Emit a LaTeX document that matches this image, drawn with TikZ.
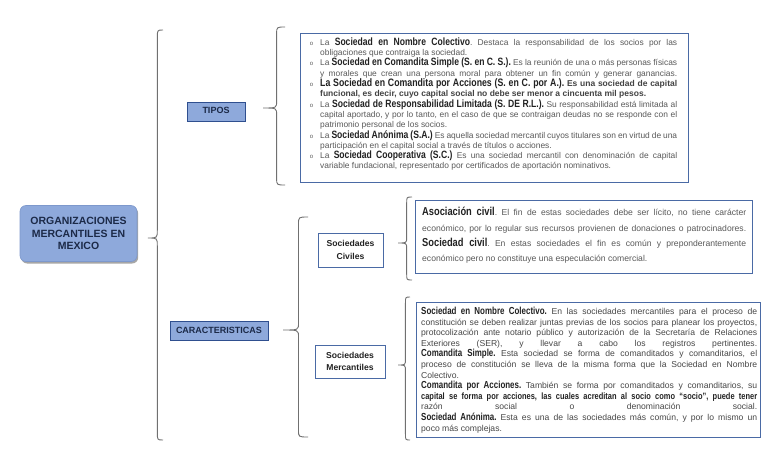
\documentclass[tikz,border=0pt]{standalone}
\usepackage{fontspec}
\setmainfont{Liberation Sans}
\newfontfamily\narrowf[FakeStretch=0.81]{Liberation Sans}
\newfontfamily\narrowg[FakeStretch=0.78]{Liberation Sans}
\usetikzlibrary{shadows,calc}
\definecolor{nodefill}{HTML}{8EA9DB}
\definecolor{mainborder}{HTML}{7D98CC}
\definecolor{nodeborder}{HTML}{2F4F8F}
\definecolor{boxborder}{HTML}{4A6AA5}
\definecolor{bracec}{HTML}{707070}
\definecolor{bodyc}{HTML}{595959}
\definecolor{headc}{HTML}{222222}
\definecolor{titlec}{HTML}{1C2A48}
\newcommand\hd[2][10.6]{{\narrowf\bfseries\fontsize{#1}{10}\selectfont\color{headc}#2}}
\newcommand\hm[1]{{\narrowg\bfseries\fontsize{10.2}{10}\selectfont\color{headc}#1}}
\newcommand\bul{\noindent\llap{{\fontsize{6}{6}\selectfont o}\hspace{7pt}}}
\newcommand\jpar{{\parfillskip=0pt\par}}
\newcommand\curlybrace[2]{%
  \draw[bracestyle] let \p1=(#1-t), \p2=(#1-b), \p3=(#1-m),
    \n1={\x3+0.62*(\x1-\x3)} in
    (\p1) .. controls (\n1,\y1) .. (\n1,\y1-#2)
    -- (\n1,\y3+#2) .. controls (\n1,\y3) .. (\p3)
    .. controls (\n1,\y3) .. (\n1,\y3-#2)
    -- (\n1,\y2+#2) .. controls (\n1,\y2) .. (\p2);}
\frenchspacing
\begin{document}
\begin{tikzpicture}[x=1pt,y=-1pt,
  bracestyle/.style={draw=bracec, line width=0.9pt},
  catbox/.style={draw=nodeborder, fill=nodefill, line width=0.8pt, inner sep=0,
    font=\bfseries\fontsize{9}{10}\selectfont, text=titlec},
  subbox/.style={draw=boxborder, fill=white, line width=0.9pt, inner sep=0,
    align=center, text=headc},
  infobox/.style={draw=boxborder, line width=0.9pt, inner sep=0, anchor=north west},
  txt/.style={inner sep=0, align=justify, text=bodyc, anchor=north west}
]
\useasboundingbox[fill=white] (0,0) rectangle (768,466);

% main node
\node[draw=mainborder, fill=nodefill, rounded corners=6pt, line width=0.6pt,
  minimum width=117pt, minimum height=56pt, align=center,
  drop shadow={shadow xshift=1.2pt, shadow yshift=-2pt, opacity=0.35, fill=black},
  font=\bfseries\fontsize{10.5}{12.6}\selectfont, text=titlec] (main) at (78.5,233.5)
  {ORGANIZACIONES\\MERCANTILES EN\\MEXICO};

% category boxes
\node[catbox, minimum width=58pt, minimum height=19pt] (tipos) at (216,111.5) {\raisebox{1.5pt}{TIPOS}};
\node[catbox, minimum width=98pt, minimum height=19pt] (carac) at (219,330.5) {CARACTERISTICAS};

% sub boxes
\node[subbox, minimum width=65pt, minimum height=34pt,
  font=\bfseries\fontsize{8.6}{13.5}\selectfont] (civ) at (350.5,250) {Sociedades\\Civiles};
\node[subbox, minimum width=70pt, minimum height=33pt,
  font=\bfseries\fontsize{8.6}{12}\selectfont] (merc) at (350,361.5) {Sociedades\\Mercantiles};

% braces
\coordinate (b1-t) at (163,30);  \coordinate (b1-b) at (163,440); \coordinate (b1-m) at (148,238);
\coordinate (b2-t) at (285,27);  \coordinate (b2-b) at (285,185); \coordinate (b2-m) at (263,108);
\coordinate (b3-t) at (308,217); \coordinate (b3-b) at (308,437); \coordinate (b3-m) at (283,330);
\coordinate (b4-t) at (412,197); \coordinate (b4-b) at (412,280); \coordinate (b4-m) at (398,243);
\coordinate (b5-t) at (410,297); \coordinate (b5-b) at (410,440); \coordinate (b5-m) at (398,365);
\curlybrace{b1}{8pt}
\curlybrace{b2}{7pt}
\curlybrace{b3}{7pt}
\curlybrace{b4}{6pt}
\curlybrace{b5}{6pt}

% info boxes
\node[infobox, minimum width=388pt, minimum height=149pt] (tbox) at (300,33) {};
\node[infobox, minimum width=337pt, minimum height=73pt] (cbox) at (415,200) {};
\node[infobox, minimum width=344pt, minimum height=135pt] (mbox) at (416,302) {};

% tipos text
\node[txt, text width=357pt, font=\fontsize{8.4}{10.3}\selectfont] (ttext) at (320,37.5) {%
\parindent=0pt
\bul La \hd{Sociedad en Nombre Colectivo}. Destaca la responsabilidad de los socios por las\linebreak
obligaciones que contraiga la sociedad.\par
\bul La \hd{Sociedad en Comandita Simple (S. en C. S.).} Es la reunión de una o más personas físicas\linebreak
y morales que crean una persona moral para obtener un fin común y generar ganancias.\jpar
\bul \hd[10.8]{La Sociedad en Comandita por Acciones (S. en C. por A.).} {\bfseries\fontsize{8.5}{10.3}\selectfont\color{headc!85!white}Es una sociedad de capital\linebreak
funcional, es decir, cuyo capital social no debe ser menor a cincuenta mil pesos.}\par
\bul La \hd{Sociedad de Responsabilidad Limitada (S. DE R.L.).} Su responsabilidad está limitada al\linebreak
capital aportado, y por lo tanto, en el caso de que se contraigan deudas no se responde con el\linebreak
patrimonio personal de los socios.\par
\bul La \hd{Sociedad Anónima (S.A.)} Es aquella sociedad mercantil cuyos titulares son en virtud de una\linebreak
participación en el capital social a través de títulos o acciones.\par
\bul La \hd{Sociedad Cooperativa (S.C.)} Es una sociedad mercantil con denominación de capital\linebreak
variable fundacional, representado por certificados de aportación nominativos.\par};

% civiles text
\node[txt, text width=324pt, font=\fontsize{8.6}{15.4}\selectfont] (ctext) at (422,207) {%
\parindent=0pt
\hd[11.5]{Asociación civil}. El fin de estas sociedades debe ser lícito, no tiene carácter\linebreak
económico, por lo regular sus recursos provienen de donaciones o patrocinadores.\linebreak
\hd[11.5]{Sociedad civil}. En estas sociedades el fin es común y preponderantemente\linebreak
económico pero no constituye una especulación comercial.\par};

% mercantiles text
\node[txt, text width=336pt, font=\fontsize{8.6}{10.6}\selectfont, text=bodyc!80!black] (mtext) at (421,307) {%
\parindent=0pt
\hm{Sociedad en Nombre Colectivo.} En las sociedades mercantiles para el proceso de\linebreak
constitución se deben realizar juntas previas de los socios para planear los proyectos,\linebreak
protocolización ante notario público y autorización de la Secretaría de Relaciones\linebreak
Exteriores (SER), y llevar a cabo los registros pertinentes.\linebreak
\hm{Comandita Simple.} Esta sociedad se forma de comanditados y comanditarios, el\linebreak
proceso de constitución se lleva de la misma forma que la Sociedad en Nombre\linebreak
Colectivo.\par
\hm{Comandita por Acciones.} También se forma por comanditados y comanditarios, su\linebreak
{\narrowf\bfseries\fontsize{9.2}{10.6}\selectfont\color{headc}capital se forma por acciones, las cuales acreditan al socio como “socio”, puede tener}\linebreak
razón social o denominación social.\linebreak
\hm{Sociedad Anónima.} Esta es una de las sociedades más común, y por lo mismo un\linebreak
poco más complejas.\par};
\end{tikzpicture}
\end{document}
